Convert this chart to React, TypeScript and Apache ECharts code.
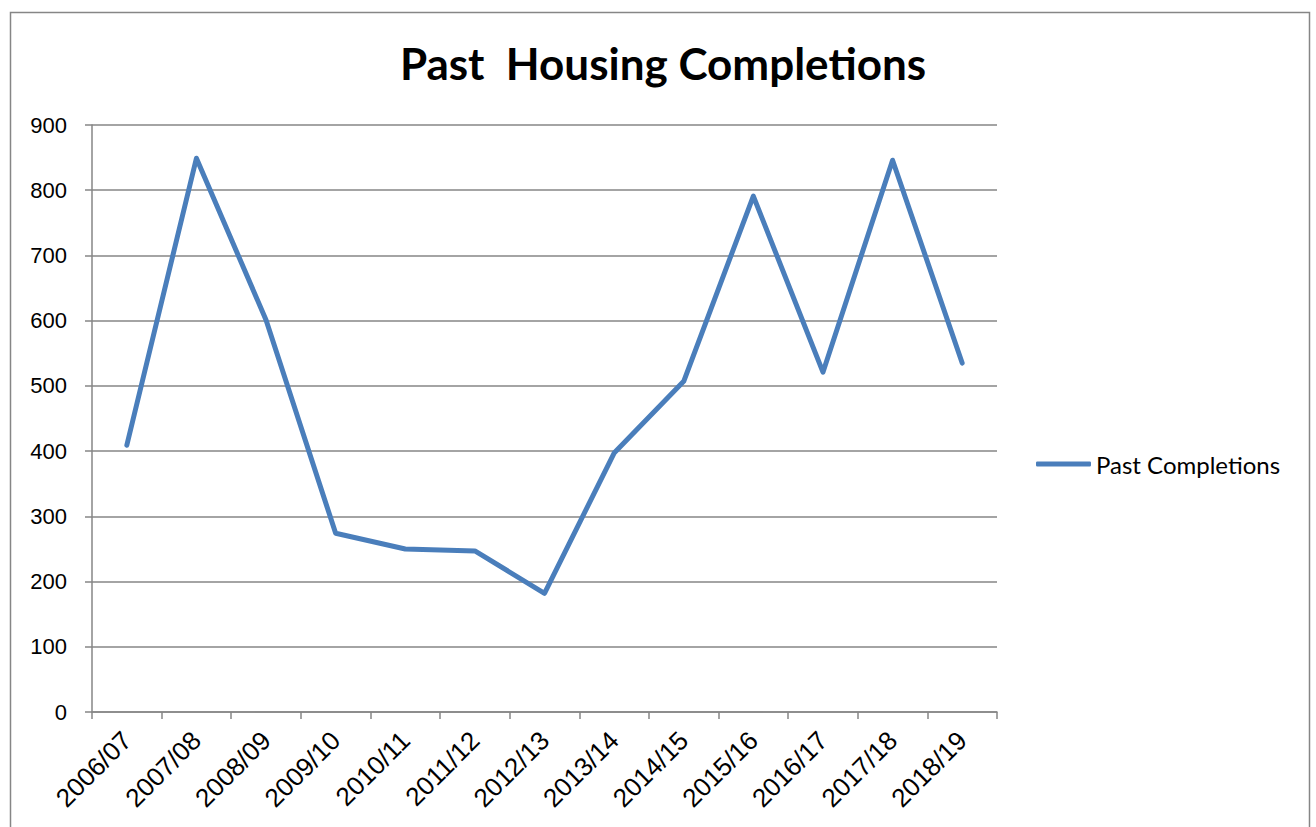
import React, { useEffect, useRef } from "react";
import * as echarts from "echarts";

const categories = [
  "2006/07", "2007/08", "2008/09", "2009/10", "2010/11", "2011/12", "2012/13",
  "2013/14", "2014/15", "2015/16", "2016/17", "2017/18", "2018/19",
];
const pastCompletions = [409, 849, 601, 274, 250, 247, 182, 397, 507, 791, 521, 846, 535];
const seriesName = "Past Completions";
const titleText = "Past  Housing Completions";

export default function App() {
  const ref = useRef<HTMLDivElement>(null);
  useEffect(() => {
    if (!ref.current) return;
    const chart = echarts.init(ref.current, undefined, { renderer: "svg" });
    chart.setOption({
      animation: false,
      backgroundColor: "#ffffff",
      title: {
        text: titleText,
        left: 658,
        textAlign: "center",
        top: 36,
        textStyle: { fontFamily: "Lato", fontWeight: "bold", fontSize: 44, color: "#000" },
      },
      graphic: [
        {
          type: "rect",
          shape: { x: 10.5, y: 12.5, width: 1299, height: 900 },
          style: { fill: "none", stroke: "#868686", lineWidth: 1.5 },
          silent: true,
        },
      ],
      legend: {
        orient: "vertical",
        left: 1031,
        top: 447,
        itemWidth: 55,
        itemHeight: 5,
        textStyle: { fontFamily: "Lato", fontSize: 24, color: "#000", padding: [0, 0, 0, 0] },
        data: [{ name: seriesName, icon: "roundRect", itemStyle: { color: "#4A7EBB" } }],
      },
      grid: { left: 92, right: 319, top: 125, bottom: 115 },
      xAxis: {
        type: "category",
        data: categories,
        boundaryGap: true,
        axisLine: { lineStyle: { color: "#868686", width: 1.5 } },
        axisTick: { show: true, length: 7, interval: 0, lineStyle: { color: "#868686", width: 1.5 } },
        axisLabel: {
          rotate: 45,
          interval: 0,
          margin: 24,
          fontFamily: "Liberation Sans",
          fontSize: 26,
          color: "#000",
        },
      },
      yAxis: {
        type: "value",
        min: 0,
        max: 900,
        interval: 100,
        axisLine: { show: true, lineStyle: { color: "#868686", width: 1.5 } },
        axisTick: { show: true, length: 7, lineStyle: { color: "#868686", width: 1.5 } },
        axisLabel: { fontFamily: "Liberation Sans", fontSize: 22, color: "#000", margin: 25 },
        splitLine: { lineStyle: { color: "#868686", width: 1.5 } },
      },
      series: [
        {
          name: seriesName,
          type: "line",
          data: pastCompletions,
          symbol: "none",
          lineStyle: { color: "#4A7EBB", width: 5, cap: "round", join: "round" },
          itemStyle: { color: "#4A7EBB" },
        },
      ],
    });
    return () => chart.dispose();
  }, []);
  return (
    <div
      ref={ref}
      style={{ position: "fixed", left: 0, top: 0, width: 1316, height: 827 }}
    />
  );
}
